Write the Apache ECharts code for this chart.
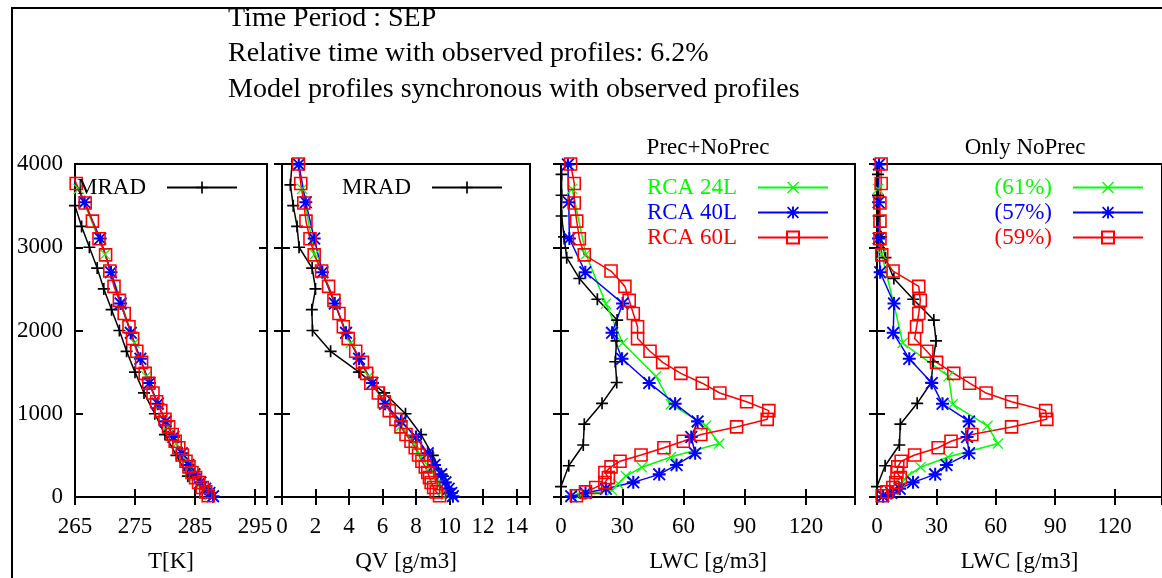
<!DOCTYPE html>
<html>
<head>
<meta charset="utf-8">
<script src="https://cdn.jsdelivr.net/npm/echarts@6/dist/echarts.min.js"></script>
<style>
  html, body { margin: 0; padding: 0; background: #fff; }
  #chart { width: 1162px; height: 578px; }
</style>
</head>
<body>
<div id="chart"></div>
<script>
// heights [m]
const hObs = [4000, 3750, 3500, 3250, 3000, 2750, 2500, 2250, 2000, 1750, 1500, 1250, 1000, 750, 500, 250];
const hObsLwc = [3875, 3625, 3375, 3125, 2875, 2625, 2375, 2125, 1875, 1625, 1375, 1125, 875, 625, 375, 125];
const h24 = [3700, 2915, 2320, 1850, 1450, 1115, 855, 642, 480, 358, 252, 160, 80, 20];
const h40 = [3995, 3540, 3105, 2700, 2325, 1972, 1660, 1370, 1120, 908, 720, 525, 385, 272, 176, 100, 48, 10];
const h60 = [4000, 3765, 3532, 3314, 3102, 2908, 2714, 2530, 2362, 2205, 2045, 1903, 1751, 1617, 1485, 1367, 1249,
  1145, 1038, 933, 842, 750, 670, 592, 505, 430, 362, 295, 233, 174, 115, 62, 15];

// temperature [K]
const tObs = [263.5, 264.2, 265.0, 266.1, 267.4, 268.7, 269.8, 271.1, 272.4, 273.6, 275.0, 276.5, 278.3, 280.0, 281.9, 283.8];
const t24 = [265.6, 270.0, 272.8, 274.9, 276.9, 278.8, 280.5, 281.9, 283.1, 284.1, 285.1, 286.0, 286.8, 287.5];
const t40 = [263.5, 266.6, 269.2, 271.0, 272.6, 274.3, 275.9, 277.4, 278.8, 280.1, 281.4, 282.8, 283.9, 284.9, 285.9, 286.7, 287.4, 288.0];
const t60 = [264.0, 265.2, 266.7, 267.9, 269.0, 270.1, 270.8, 271.5, 272.4, 273.2, 274.0, 274.6, 275.3, 276.1, 276.7, 277.3, 278.0,
  278.6, 279.3, 280.0, 280.6, 281.2, 281.7, 282.3, 282.9, 283.5, 284.0, 284.5, 285.1, 285.6, 286.2, 286.8, 287.2];

// water vapour [g/m3]
const qvObs = [0.6, 0.5, 0.67, 0.9, 1.02, 1.8, 2.0, 1.78, 1.82, 2.9, 4.6, 6.1, 7.37, 8.3, 9.0, 9.6];
const qv24 = [1.2, 1.95, 3.15, 4.1, 5.2, 6.2, 7.1, 7.9, 8.3, 8.8, 9.15, 9.4, 9.6, 9.8];
const qv40 = [1.0, 1.42, 1.92, 2.41, 3.15, 3.82, 4.6, 5.4, 6.15, 7.1, 8.0, 8.7, 9.1, 9.5, 9.75, 9.95, 10.1, 10.2];
const qv60 = [0.98, 1.12, 1.30, 1.43, 1.67, 1.92, 2.36, 2.78, 3.10, 3.40, 3.66, 3.95, 4.40, 4.80, 5.05, 5.30, 5.75,
  6.10, 6.40, 6.80, 7.10, 7.40, 7.70, 7.95, 8.15, 8.35, 8.55, 8.70, 8.80, 8.90, 9.05, 9.20, 9.40];

// liquid water, Prec+NoPrec
const lwcObs = [0.3, 0.3, 0.3, 1.5, 2.8, 9.0, 17.8, 27.5, 27.2, 26.6, 27.3, 20.1, 11.4, 10.9, 3.8, 0.0];
const lwc24 = [5.5, 12.2, 22, 30.2, 46.5, 53.8, 71, 77.5, 53.8, 39.6, 31.8, 28, 25, 9];
const lwc40 = [3.4, 3.8, 4.1, 11.9, 30.2, 25, 29.9, 43.2, 55.9, 66.9, 63.8, 65.7, 56.6, 48.1, 35.4, 22, 12, 5];
const lwc60 = [4.7, 6.5, 6.5, 7.7, 9.0, 11.4, 24.5, 31.3, 33.4, 35.4, 37.5, 37.5, 43.6, 49.8, 58.7, 69.2, 77.8,
  90.9, 101.8, 101.0, 86, 68.5, 59.9, 50.4, 39.2, 28.9, 24.5, 21.5, 23.2, 21.5, 17, 12, 7.5];

// liquid water, Only NoPrec
const npObs = [0.5, 0.5, 0.8, 2.0, 4.3, 8.5, 18.3, 28.7, 29.8, 28.3, 27.4, 20.3, 11.8, 11.3, 4.1, 0.0];
const np24 = [0.5, 2.3, 8.5, 13, 36.2, 38.2, 55.8, 61.1, 35.8, 22, 15.4, 12, 8.2, 3];
const np40 = [1.0, 0.8, 0.8, 1.6, 8.6, 8.2, 16.3, 27.7, 33.1, 46.5, 45.5, 46.5, 35.1, 29.4, 18.2, 11.5, 7.2, 3.1];
const np60 = [2.1, 2.1, 1.5, 1.5, 1.5, 2.4, 8.1, 21.1, 21.9, 21.1, 20.0, 19.0, 25.2, 30.1, 38.8, 46.8, 55.1,
  68.0, 85.2, 85.8, 68.0, 47.9, 37.4, 30.9, 19.0, 12.2, 10.5, 10.1, 11.8, 9.5, 8.0, 5.0, 2.6];

const npLabels = ['(61%)', '(57%)', '(59%)'];

const FONT = '"Liberation Serif", "Times New Roman", serif';
const GREEN = '#00ff00', BLUE = '#0000ff', RED = '#ff0000';

// gnuplot-like point shapes
const PLUS = 'path://M0,4.3H10V5.7H0Z M4.3,0H5.7V10H4.3Z';
const CROSS = 'path://M0,0.8L0.8,0L10,9.2L9.2,10Z M0.8,10L0,9.2L9.2,0L10,0.8Z';
const STAR = 'path://M0,4.2H10V5.8H0Z M4.2,0H5.8V10H4.2Z M0,1L1,0L10,9L9,10Z M1,10L0,9L9,0L10,1Z';

function pairs(xs, hs) {
  return xs.map((v, i) => [v, hs[i]]);
}

const panels = [
  {left: 75, width: 192, min: 265, max: 297, interval: 10, name: 'T[K]'},
  {left: 282, width: 248, min: 0, max: 14.8, interval: 2, name: 'QV [g/m3]'},
  {left: 561, width: 294, min: 0, max: 144, interval: 30, name: 'LWC [g/m3]'},
  {left: 877, width: 294, min: 0, max: 144, interval: 30, name: 'LWC [g/m3]'},
];

const tick = {inside: true, length: 8, lineStyle: {color: '#000', width: 2}};
const grid = [], xAxis = [], yAxis = [];
panels.forEach((p, i) => {
  grid.push({left: p.left, top: 164, width: p.width, height: 339, show: true, borderColor: '#000', borderWidth: 2});
  xAxis.push({
    type: 'value', gridIndex: i, min: p.min, max: p.max, interval: p.interval,
    axisLine: {show: false}, splitLine: {show: false}, axisTick: tick,
    axisLabel: {color: '#000', fontFamily: FONT, fontSize: 23, margin: 18, showMaxLabel: false},
    name: p.name, nameLocation: 'middle', nameGap: 53,
    nameTextStyle: {color: '#000', fontFamily: FONT, fontSize: 23}
  });
  xAxis.push({
    type: 'value', gridIndex: i, position: 'top', min: p.min, max: p.max, interval: p.interval,
    axisLine: {show: false}, splitLine: {show: false}, axisTick: tick, axisLabel: {show: false}
  });
  yAxis.push({
    type: 'value', gridIndex: i, min: 0, max: 4000, interval: 1000,
    axisLine: {show: false}, splitLine: {show: false}, axisTick: tick,
    axisLabel: {show: i === 0, color: '#000', fontFamily: FONT, fontSize: 23, margin: 12, formatter: v => String(v)}
  });
  yAxis.push({
    type: 'value', gridIndex: i, position: 'right', min: 0, max: 4000, interval: 1000,
    axisLine: {show: false}, splitLine: {show: false}, axisTick: tick, axisLabel: {show: false}
  });
});

function line(name, panel, data, style) {
  return Object.assign({
    type: 'line', name: name, data: data,
    xAxisIndex: panel * 2, yAxisIndex: panel * 2,
    showSymbol: true, symbolSize: 12, animation: false, z: 2
  }, style);
}
const sObs = {color: '#000', symbol: PLUS, symbolSize: 12, itemStyle: {color: '#000'}, lineStyle: {color: '#000', width: 1.5}};
const s24 = {color: GREEN, symbol: CROSS, symbolSize: 11, itemStyle: {color: GREEN}, lineStyle: {color: GREEN, width: 1.5}};
const s40 = {color: BLUE, symbol: STAR, symbolSize: 13, itemStyle: {color: BLUE}, lineStyle: {color: BLUE, width: 1.5}};
const s60 = {color: RED, symbol: 'rect', symbolSize: 12,
  itemStyle: {color: 'rgba(255,255,255,0)', borderColor: RED, borderWidth: 1.6}, lineStyle: {color: RED, width: 1.5}};

const series = [
  line('MRAD', 0, pairs(tObs, hObs), sObs),
  line('RCA 24L', 0, pairs(t24, h24), s24),
  line('RCA 40L', 0, pairs(t40, h40), s40),
  line('RCA 60L', 0, pairs(t60, h60), s60),
  line('MRAD', 1, pairs(qvObs, hObs), sObs),
  line('RCA 24L', 1, pairs(qv24, h24), s24),
  line('RCA 40L', 1, pairs(qv40, h40), s40),
  line('RCA 60L', 1, pairs(qv60, h60), s60),
  line('MRAD', 2, pairs(lwcObs, hObsLwc), sObs),
  line('RCA 24L', 2, pairs(lwc24, h24), s24),
  line('RCA 40L', 2, pairs(lwc40, h40), s40),
  line('RCA 60L', 2, pairs(lwc60, h60), s60),
  line('MRAD', 3, pairs(npObs, hObsLwc), sObs),
  line(npLabels[0], 3, pairs(np24, h24), s24),
  line(npLabels[1], 3, pairs(np40, h40), s40),
  line(npLabels[2], 3, pairs(np60, h60), s60),
];

function legend(names, colors, right) {
  return {
    data: names.map((n, i) => ({name: n, textStyle: {color: colors[i]}})),
    orient: 'vertical', align: 'right', right: right, top: 176,
    padding: 0, itemGap: 2, itemWidth: 70, itemHeight: 15, selectedMode: false,
    textStyle: {fontFamily: FONT, fontSize: 23, padding: [0, 16, 0, 0]}
  };
}

const chart = echarts.init(document.getElementById('chart'));
chart.setOption({
  backgroundColor: '#fff',
  animation: false,
  grid: grid,
  xAxis: xAxis,
  yAxis: yAxis,
  series: series,
  legend: [
    legend(['MRAD'], ['#000'], 1162 - 238),
    legend(['MRAD'], ['#000'], 1162 - 503),
    legend(['RCA 24L', 'RCA 40L', 'RCA 60L'], [GREEN, BLUE, RED], 1162 - 829),
    legend(npLabels, [GREEN, BLUE, RED], 1162 - 1144),
  ],
  graphic: [
    {type: 'rect', shape: {x: 12, y: 8, width: 1200, height: 620}, style: {fill: 'none', stroke: '#000', lineWidth: 2}, silent: true},
    {type: 'text', x: 228, y: 19, style: {text: 'Time Period : SEP', font: '28px ' + FONT, fill: '#000', verticalAlign: 'middle'}},
    {type: 'text', x: 228, y: 54, style: {text: 'Relative time with observed profiles: 6.2%', font: '28px ' + FONT, fill: '#000', verticalAlign: 'middle'}},
    {type: 'text', x: 228, y: 90, style: {text: 'Model profiles synchronous with observed profiles', font: '28px ' + FONT, fill: '#000', verticalAlign: 'middle'}},
    {type: 'text', x: 708, y: 148, style: {text: 'Prec+NoPrec', font: '23px ' + FONT, fill: '#000', align: 'center', verticalAlign: 'middle'}},
    {type: 'text', x: 1025, y: 148, style: {text: 'Only NoPrec', font: '23px ' + FONT, fill: '#000', align: 'center', verticalAlign: 'middle'}},
  ]
});
</script>
</body>
</html>
